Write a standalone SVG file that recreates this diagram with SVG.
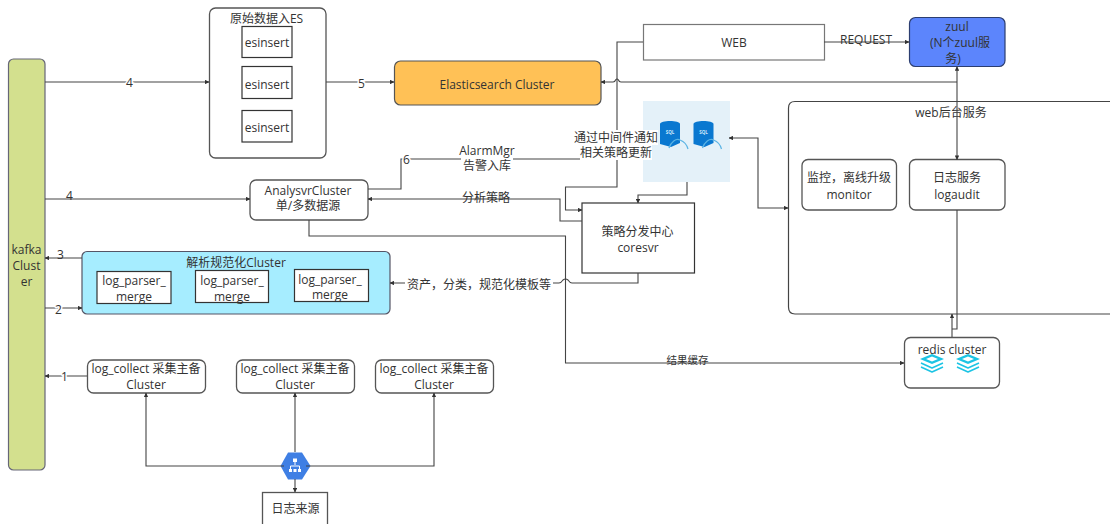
<svg xmlns="http://www.w3.org/2000/svg" width="1110" height="524" viewBox="0 0 1110 524">
<style>
text{font-family:"Open Sans","Noto Sans CJK SC",sans-serif;font-size:12px;fill:#333;text-anchor:middle;dominant-baseline:central}
.b{fill:#fff;stroke:#555;stroke-width:1.3}
.s{fill:#fff;stroke:#333;stroke-width:1.2}
.c{fill:none;stroke:#444;stroke-width:1.1}
.h{paint-order:stroke;stroke:#fff;stroke-width:3px}
.db{fill:#0a78d0}
.ha{fill:none;stroke:#5cb4e4;stroke-width:1.2}
.q{font-size:4.500px;fill:#cfe8fa;font-weight:700}
.r{fill:none;stroke:#1cc4e4;stroke-width:1.6;stroke-linejoin:round}
</style>
<defs>
<marker id="a" viewBox="0 0 6 6" refX="5.5" refY="3" markerWidth="4.5" markerHeight="4.5" markerUnits="userSpaceOnUse" orient="auto-start-reverse"><path d="M0 0L6 3L0 6Z" fill="#333"/></marker>
<g id="sql"><path class="db" d="M0 4C0 0 20 0 20 4V23L11 27L0 24Z"/><path class="ha" d="M9 28C11 22 16 18 20 20C25 22 27 25 28 29"/><text class="q" x="10" y="12">SQL</text></g>
<g id="stack"><path class="r" d="M1 9L12 14L23 9"/><path class="r" d="M1 13L12 18L23 13"/><path d="M12 0L24 5L12 10L0 5Z" fill="#1cc4e4"/><path d="M12 2.500L18 5L12 7.500L6 5Z" fill="#fff"/></g>
</defs>

<g id="kafka"><rect x="8.500" y="59" width="36.500" height="411" rx="5" fill="#d3e08e" stroke="#667" stroke-width="1.200"/><text x="26.500" y="249">kafka</text><text x="26.500" y="265">Clust</text><text x="26.500" y="281">er</text></g>

<g id="es-input"><rect class="b" x="209.500" y="8" width="116.500" height="150" rx="6"/><text x="266.500" y="18">原始数据入ES</text>
<rect class="s" x="242" y="26.500" width="50" height="31"/><text x="267" y="42.500">esinsert</text>
<rect class="s" x="242" y="66.500" width="50" height="32"/><text x="267" y="84">esinsert</text>
<rect class="s" x="242" y="110.500" width="50" height="31.500"/><text x="267" y="127.500">esinsert</text></g>

<g id="elasticsearch"><rect x="394.500" y="61" width="206.500" height="44" rx="6" fill="#ffc156" stroke="#555" stroke-width="1.200"/><text x="497" y="84">Elasticsearch Cluster</text></g>
<g id="web"><rect x="643.500" y="24.500" width="181" height="35.500" fill="#fff" stroke="#777" stroke-width="1.200"/><text x="734" y="42">WEB</text></g>
<g id="zuul"><rect x="909.500" y="17.500" width="95.500" height="49" rx="6" fill="#5c85fc" stroke="#2c3e70" stroke-width="1.200"/><text x="957" y="26">zuul</text><text x="960" y="42">(N个zuul服</text><text x="953" y="58">务)</text></g>

<g id="sql-panel"><rect x="643" y="101" width="87" height="81" fill="#e4f1f9"/><use href="#sql" x="660" y="120"/><use href="#sql" x="693.500" y="120"/></g>

<g id="web-backend"><path d="M1110 101.500H795Q788.500 101.500 788.500 108V307Q788.500 314 795 314H1110" fill="#fff" stroke="#444" stroke-width="1.200"/><text x="951" y="112">web后台服务</text></g>
<g id="monitor"><rect class="b" x="802" y="159.500" width="94.500" height="50.500" rx="6"/><text x="849" y="177">监控，离线升级</text><text x="849" y="194">monitor</text></g>
<g id="logaudit"><rect class="b" x="909.500" y="159.500" width="95.500" height="50.500" rx="6"/><text x="957" y="177">日志服务</text><text x="957" y="194">logaudit</text></g>

<g id="analysvr"><rect class="b" x="250" y="180" width="118" height="40" rx="6"/><text x="308" y="190">AnalysvrCluster</text><text x="308" y="205.500">单/多数据源</text></g>
<g id="coresvr"><rect class="s" x="582" y="203" width="112.500" height="70"/><text x="637.500" y="231">策略分发中心</text><text x="638" y="247">coresvr</text></g>

<g id="parser"><rect x="82" y="251.500" width="308" height="62.500" rx="5" fill="#a6edff" stroke="#556" stroke-width="1.200"/><text x="236" y="262.500">解析规范化Cluster</text>
<rect class="s" x="97" y="271.500" width="74" height="32"/><text x="134" y="280">log_parser_</text><text x="134" y="296">merge</text>
<rect class="s" x="195.500" y="270.500" width="73" height="32"/><text x="232" y="280">log_parser_</text><text x="232" y="296">merge</text>
<rect class="s" x="294.500" y="269.500" width="74" height="32"/><text x="330" y="279">log_parser_</text><text x="330" y="294">merge</text></g>

<g id="collect-1"><rect class="b" x="87.500" y="360" width="118" height="33" rx="6"/><text x="146" y="368.500">log_collect 采集主备</text><text x="146" y="384.500">Cluster</text></g>
<g id="collect-2"><rect class="b" x="236.500" y="360" width="118" height="33" rx="6"/><text x="295" y="368.500">log_collect 采集主备</text><text x="295" y="384.500">Cluster</text></g>
<g id="collect-3"><rect class="b" x="375.500" y="360" width="118" height="33" rx="6"/><text x="434" y="368.500">log_collect 采集主备</text><text x="434" y="384.500">Cluster</text></g>

<g id="load-balancer"><path d="M288 452.500H302L310.500 466L302 479.500H288L280.500 466Z" fill="#3f7fe4"/><path d="M295 461V465M290.500 470V466H299.500V470" fill="none" stroke="#fff" stroke-width="1"/><path d="M293 458.500h4v3.500h-4ZM289 469h3v3h-3ZM293.500 469h3v3h-3ZM298 469h3v3h-3Z" fill="#fff"/></g>
<g id="log-source"><rect class="b" x="262.500" y="492.500" width="65" height="33"/><text x="295.500" y="508">日志来源</text></g>

<g id="redis"><rect class="b" x="904.500" y="337.500" width="95" height="50.500" rx="6"/><text x="952" y="349">redis cluster</text><use href="#stack" x="920" y="354"/><use href="#stack" x="956" y="354"/></g>

<g id="connectors">
<path class="c" marker-end="url(#a)" d="M45 82H209"/>
<path class="c" marker-end="url(#a)" d="M326 82H394"/>
<path class="c" marker-end="url(#a)" d="M45 199H250"/>
<path class="c" marker-end="url(#a)" d="M82 258H45"/>
<path class="c" marker-end="url(#a)" d="M45 308H82"/>
<path class="c" marker-end="url(#a)" d="M87 376H45"/>
<path class="c" marker-end="url(#a)" d="M284 466H146V393"/>
<path class="c" marker-end="url(#a)" d="M295 452V393"/>
<path class="c" marker-end="url(#a)" d="M306 466H434V393"/>
<path class="c" marker-end="url(#a)" d="M295 479V492"/>
<path class="c" marker-end="url(#a)" d="M957 82H621Q619 82 618.500 80Q617 78 615.500 80Q615 82 613 82H601"/>
<path class="c" marker-start="url(#a)" marker-end="url(#a)" d="M957 66.500V159.500"/>
<path class="c" marker-end="url(#a)" d="M824 42H909"/>
<path class="c" marker-end="url(#a)" d="M643 42H617V187H565.500V210H582"/>
<path class="c" marker-end="url(#a)" d="M687 182V195H638V203"/>
<path class="c" marker-start="url(#a)" marker-end="url(#a)" d="M729 138H758V208H788"/>
<path class="c" d="M368 189H401V159H643"/>
<path class="c" marker-end="url(#a)" d="M582 221H560V199H368"/>
<path class="c" marker-end="url(#a)" d="M309 220V236H565.500V363H904"/>
<path class="c" marker-end="url(#a)" d="M638 273V283H572Q570 283 568 280Q565.500 278 563 280Q561 283 559 283H390"/>
<path class="c" d="M957 210V329H952"/>
<path class="c" marker-end="url(#a)" d="M952 337V314"/>
</g>

<g id="labels">
<text class="h" x="129.500" y="82.500">4</text>
<text class="h" x="361.500" y="83">5</text>
<text x="69.500" y="195">4</text>
<text x="60.500" y="254">3</text>
<text class="h" x="58.500" y="309">2</text>
<text class="h" x="64.500" y="376">1</text>
<text x="866" y="39">REQUEST</text>
<text class="h" x="406.500" y="159">6</text>
<rect x="461" y="144" width="52" height="29" fill="#fff"/>
<text x="487" y="150.500">AlarmMgr</text>
<text x="487" y="165.500">告警入库</text>
<rect x="574" y="130" width="84" height="15" fill="#fff"/><rect x="580" y="145" width="72" height="15" fill="#fff"/>
<text x="616" y="137">通过中间件通知</text>
<text x="616" y="152">相关策略更新</text>
<text x="486" y="197">分析策略</text>
<rect x="405" y="277" width="148" height="14" fill="#fff"/>
<text x="479" y="284">资产，分类，规范化模板等</text>
<text x="687.500" y="359.500" style="font-size:10.500px">结果缓存</text>
</g>
</svg>
